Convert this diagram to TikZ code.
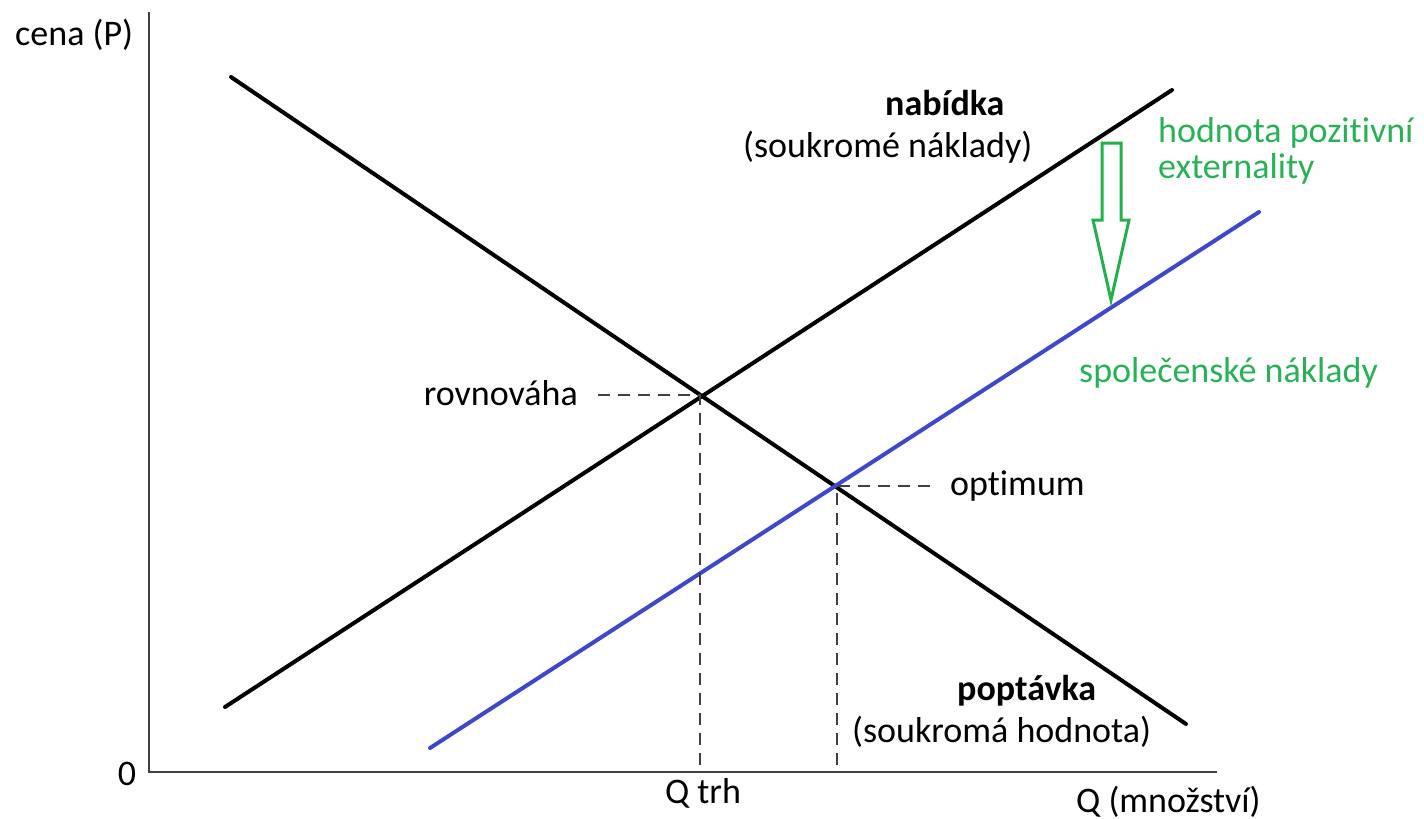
\documentclass[tikz,border=0pt]{standalone}
\usepackage{fontspec}
\setmainfont{Carlito}[Ligatures=CommonOff]
\usetikzlibrary{calc}
\definecolor{cAxis}{RGB}{64,64,64}
\definecolor{cSoc} {RGB}{63,72,204}
\definecolor{cExt} {RGB}{34,177,76}
\definecolor{cExtT}{RGB}{40,178,85}

\begin{document}
\begin{tikzpicture}[
  x=1pt,y=-1pt,
  axis/.style={draw=cAxis,line width=2.5pt},
  curve/.style={line width=4pt,line cap=round},
  guide/.style={draw=black!75,line width=1.4pt,dash pattern=on 12pt off 8pt},
  lbl/.style={inner sep=0pt,font=\fontsize{36}{40}\selectfont},
  ext/.style={lbl,text=cExtT},
]
\useasboundingbox (0,0) rectangle (1424,819);
% axes
\coordinate (o) at (149,772);
\coordinate (ytop) at (149,12);
\coordinate (xend) at (1217,772);
\draw[axis] (ytop) -- (o) -- (xend);
\node[lbl,anchor=base west] (ylab) at (15,45) {cena (P)};
\node[lbl,anchor=base] (zero) at (127,785) {0};
\node[lbl,anchor=base west] (xlab) at (1076,812) {Q (množství)};
% curves
\coordinate (s1) at (225,707);
\coordinate (s2) at (1172,90);
\coordinate (d1) at (231,77);
\coordinate (d2) at (1186,724);
\coordinate (c1) at (430,748);
\coordinate (c2) at (1259,212);
\draw[curve] (s1) -- (s2);
\draw[curve] (d1) -- (d2);
\draw[curve,cSoc] (c1) -- (c2);
% equilibrium and optimum
\coordinate (eq) at (700,395);
\coordinate (opt) at (837,486);
\coordinate (eqL) at (598,395);
\coordinate (optR) at (930,486);
\draw[guide] (eqL) -- (eq) -- (eq |- o);
\draw[guide] (optR) -- (opt) -- (opt |- o);
\node[lbl,anchor=base east] (eqlab) at (578,405) {rovnováha};
\node[lbl,anchor=base west] (optlab) at (950,495) {optimum};
\node[lbl,anchor=base] (qtrh) at (703,803) {Q trh};
% curve labels
\node[lbl,anchor=base west] (nab) at (885,115) {\bfseries nabídka};
\node[lbl,anchor=base west] (nab2) at (743,157) {(soukromé náklady)};
\node[lbl,anchor=base west] (pop) at (957,700) {\bfseries poptávka};
\node[lbl,anchor=base west] (pop2) at (852,742) {(soukromá hodnota)};
\node[ext,anchor=base west] (extlab) at (1158,142) {hodnota pozitivní};
\node[ext,anchor=base west] (extlab2) at (1158,178) {externality};
\node[ext,anchor=base west] (soclab) at (1079,382) {společenské náklady};
% externality arrow
\draw[cExt,line width=3pt,line join=miter]
  (1102,143) -- (1121,143) -- (1121,220) -- (1129,220) -- (1111,300)
  -- (1093,220) -- (1102,220) -- cycle;
\end{tikzpicture}
\end{document}
